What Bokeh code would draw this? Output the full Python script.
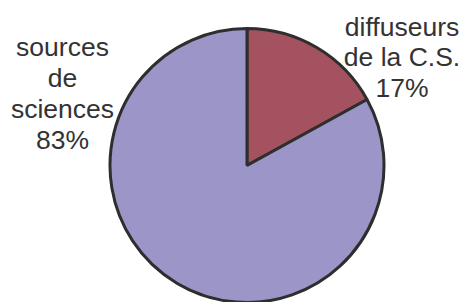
import math
from bokeh.plotting import figure
from bokeh.models import Range1d, ColumnDataSource
from bokeh.core.properties import value
from bokeh.embed import file_html
from bokeh.resources import INLINE

categories = ["diffuseurs de la C.S.", "sources de sciences"]
shares = [17, 83]
colors = ["#A4525F", "#9B95C8"]
label_lines = [["diffuseurs", "de la C.S.", "17%"], ["sources", "de", "sciences", "83%"]]

W, H = 463, 302
p = figure(width=W, height=H, output_backend="svg", toolbar_location=None,
           x_range=Range1d(0, W), y_range=Range1d(0, H), min_border=0)
p.axis.visible = False
p.grid.visible = False
p.outline_line_color = None
p.background_fill_color = "white"

cx, cy, r = 246.5, 137, 137
total = sum(shares)
starts, ends = [], []
a = math.pi / 2
for s in shares:
    e = a - 2 * math.pi * s / total
    starts.append(e)
    ends.append(a)
    a = e

src = ColumnDataSource(dict(start=starts, end=ends, color=colors, cat=categories))
p.wedge(x=cx, y=cy, radius=r, radius_units="screen", start_angle="start", end_angle="end",
        fill_color="color", line_color="#2E2E2E", line_width=3, source=src)

# labels
label_x = [401.5, 62]
label_y0 = [276, 256]
label_step = [30.5, 31]
for lines, lx, ly, st in zip(label_lines, label_x, label_y0, label_step):
    ys = [ly - i * st for i in range(len(lines))]
    p.text(x=[lx] * len(lines), y=ys, text=lines, text_align="center",
           text_baseline="alphabetic", text_font=value("Liberation Sans"),
           text_font_size="26.5px", text_color="#333333")

open("out.html", "w").write(file_html(p, INLINE))
